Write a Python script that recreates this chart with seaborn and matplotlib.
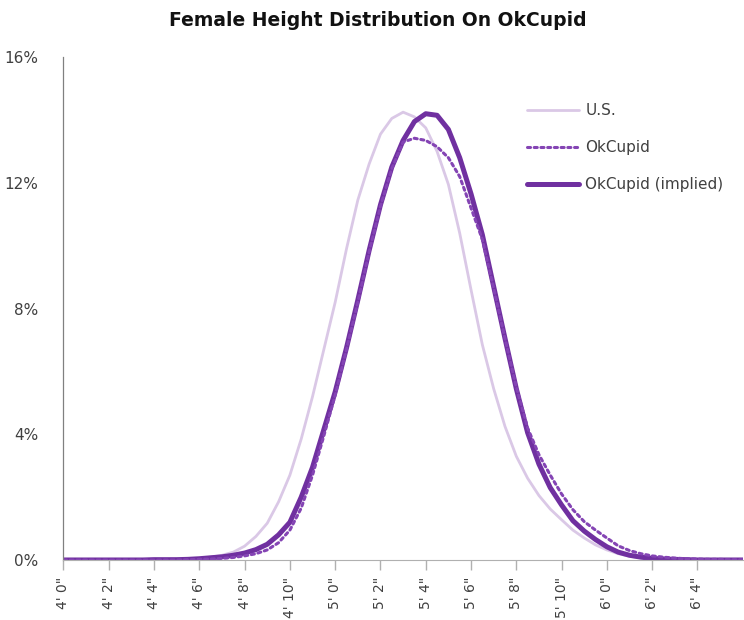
import matplotlib
matplotlib.use("Agg")
import matplotlib.pyplot as plt
import numpy as np
import pandas as pd
import seaborn as sns

# height in inches, 4'0" .. 6'6" in half-inch steps
heights = np.arange(48, 78.5, 0.5)

us = [0.00, 0.00, 0.00, 0.00, 0.00, 0.00, 0.00, 0.00, 0.00, 0.01,
      0.02, 0.03, 0.05, 0.09, 0.15, 0.25, 0.44, 0.75, 1.17, 1.85,
      2.70, 3.85, 5.20, 6.70, 8.20, 9.90, 11.45, 12.60, 13.55, 14.05,
      14.25, 14.10, 13.75, 13.00, 11.95, 10.40, 8.60, 6.85, 5.45, 4.25,
      3.30, 2.60, 2.05, 1.62, 1.28, 0.95, 0.70, 0.48, 0.32, 0.20,
      0.12, 0.07, 0.04, 0.02, 0.01, 0.00, 0.00, 0.00, 0.00, 0.00,
      0.00]

okcupid = [0.00, 0.00, 0.00, 0.00, 0.00, 0.00, 0.00, 0.00, 0.00, 0.00,
           0.00, 0.01, 0.02, 0.03, 0.05, 0.08, 0.13, 0.20, 0.32, 0.55,
           0.95, 1.65, 2.70, 3.95, 5.25, 6.70, 8.20, 9.80, 11.25, 12.45,
           13.30, 13.42, 13.35, 13.15, 12.80, 12.20, 11.20, 10.20, 8.65, 7.05,
           5.50, 4.20, 3.35, 2.70, 2.10, 1.60, 1.22, 0.95, 0.70, 0.45,
           0.30, 0.20, 0.13, 0.09, 0.06, 0.04, 0.03, 0.02, 0.02, 0.01,
           0.01]

okcupid_implied = [0.00, 0.00, 0.00, 0.00, 0.00, 0.00, 0.00, 0.00, 0.01, 0.01,
                   0.01, 0.02, 0.04, 0.07, 0.10, 0.15, 0.22, 0.33, 0.50, 0.80,
                   1.20, 2.00, 2.95, 4.15, 5.35, 6.75, 8.27, 9.85, 11.30, 12.50,
                   13.35, 13.95, 14.20, 14.15, 13.70, 12.80, 11.65, 10.35, 8.70, 7.05,
                   5.45, 4.05, 3.05, 2.30, 1.75, 1.25, 0.92, 0.65, 0.42, 0.25,
                   0.15, 0.09, 0.05, 0.03, 0.02, 0.01, 0.00, 0.00, 0.00, 0.00,
                   0.00]

tick_heights = list(range(48, 77, 2))
tick_labels = [f"{h // 12}' {h % 12}\"" for h in tick_heights]
y_ticks = [0, 4, 8, 12, 16]

data = pd.DataFrame({"height": heights, "U.S.": us, "OkCupid": okcupid,
                     "OkCupid (implied)": okcupid_implied})

sns.set_style("white")
plt.rcParams["font.family"] = ["DejaVu Sans"]

fig = plt.figure(figsize=(7.44, 6.2), dpi=100)
ax = fig.add_axes([0.0853, 0.0968, 0.913, 0.811])

sns.lineplot(x="height", y="U.S.", data=data, ax=ax, color="#dac8e6",
             linewidth=2.0, label="U.S.")
sns.lineplot(x="height", y="OkCupid (implied)", data=data, ax=ax, color="#7030a0",
             linewidth=3.6, label="OkCupid (implied)")
sns.lineplot(x="height", y="OkCupid", data=data, ax=ax, color="#8444b4",
             linewidth=2.2, linestyle=(0, (1, 1.2)), label="OkCupid")
for line in ax.get_lines():
    line.set_dash_capstyle("round")

ax.set_xlim(48, 78)
ax.set_ylim(0, 16)
ax.set_xticks(tick_heights)
ax.set_xticklabels(tick_labels, rotation=90)
ax.set_yticks(y_ticks)
ax.set_yticklabels([f"{v}%" for v in y_ticks])
ax.set_xlabel("")
ax.set_ylabel("")

for side in ["top", "right"]:
    ax.spines[side].set_visible(False)
ax.spines["bottom"].set_color("#b0b0b0")
ax.spines["left"].set_color("#808080")
ax.spines["left"].set_linewidth(0.9)
ax.tick_params(axis="x", length=7, width=1, color="#b0b0b0", pad=5,
               labelsize=10, labelcolor="#404040", bottom=True)
ax.tick_params(axis="y", length=0, pad=18, labelsize=11, labelcolor="#404040")

handles, labels = ax.get_legend_handles_labels()
order = [labels.index(n) for n in ["U.S.", "OkCupid", "OkCupid (implied)"]]
ax.legend([handles[i] for i in order], [labels[i] for i in order],
          loc="upper left", bbox_to_anchor=(0.69, 0.856), bbox_transform=fig.transFigure,
          frameon=False, fontsize=11, handlelength=3.4, handletextpad=0.4,
          labelspacing=1.45, labelcolor="#404040")

fig.text(0.508, 0.967, "Female Height Distribution On OkCupid", ha="center", va="center",
         fontsize=13.5, fontweight="bold", color="#111111")

fig.savefig("out.png", dpi=100)
